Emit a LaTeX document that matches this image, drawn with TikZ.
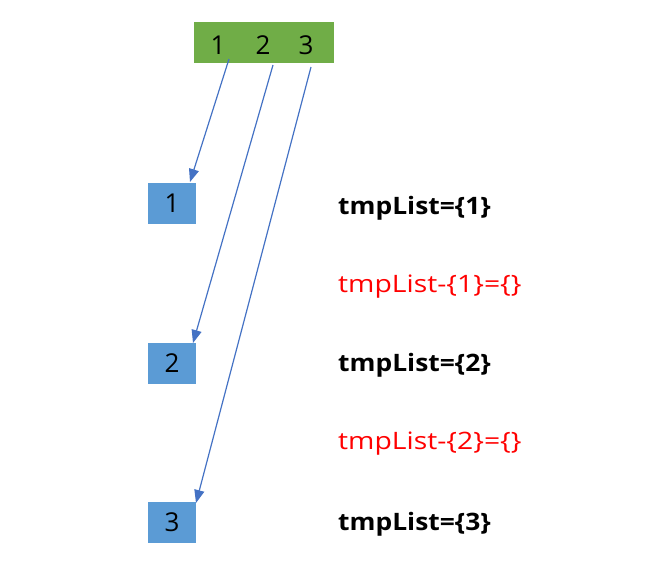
\documentclass[tikz,border=0pt]{standalone}
\usepackage{fontspec}
\setmainfont{Open Sans}
\newfontfamily\redfont{Open Sans}[FakeStretch=1.18]
\newfontfamily\blackfont{Open Sans Bold}[FakeStretch=1.1]
\usetikzlibrary{arrows.meta}
\definecolor{grn}{HTML}{70AD47}
\definecolor{blu}{HTML}{5B9BD5}
\definecolor{arr}{HTML}{4472C4}
\definecolor{rd}{HTML}{FF0000}
\tikzset{
  greenbox/.style={draw=none,fill=grn,minimum width=140pt,minimum height=41pt,inner sep=0pt},
  bluebox/.style={draw=none,fill=blu,minimum width=48pt,minimum height=41pt,inner sep=0pt,font=\fontsize{26}{26}\selectfont},
  digit/.style={inner sep=0pt,font=\fontsize{26}{26}\selectfont},
  blacktxt/.style={anchor=west,inner sep=0pt,font=\blackfont\fontsize{24}{24}\selectfont},
  redtxt/.style={anchor=west,inner sep=0pt,text=rd,font=\redfont\fontsize{24}{24}\selectfont},
  link/.style={draw=arr,line width=1.2pt,-{Triangle[length=13pt,width=10pt]}}
}
\begin{document}
\begin{tikzpicture}[x=1pt,y=-1pt]
\useasboundingbox (0,0) rectangle (646,582);
\node[greenbox] (g) at (264,42.5) {};
\node[digit] (d1) at (218,45) {1};
\node[digit] (d2) at (263,45) {2};
\node[digit] (d3) at (306,45) {3};
\node[bluebox] (b1) at (172,203.5) {1};
\node[bluebox] (b2) at (172,363) {2};
\node[bluebox] (b3) at (172,522.5) {3};
\coordinate (s1) at (229,59);
\coordinate (s2) at (273,65);
\coordinate (s3) at (311,67);
\coordinate (e1) at (190,182);
\coordinate (e2) at (193,343);
\coordinate (e3) at (196,503);
\draw[link] (s1) -- (e1);
\draw[link] (s2) -- (e2);
\draw[link] (s3) -- (e3);
\node[blacktxt] (t1) at (338,208) {tmpList=\{1\}};
\node[redtxt] (r1) at (338,287) {tmpList-\{1\}=\{\}};
\node[blacktxt] (t2) at (338,365) {tmpList=\{2\}};
\node[redtxt] (r2) at (338,444) {tmpList-\{2\}=\{\}};
\node[blacktxt] (t3) at (338,524) {tmpList=\{3\}};
\end{tikzpicture}
\end{document}
